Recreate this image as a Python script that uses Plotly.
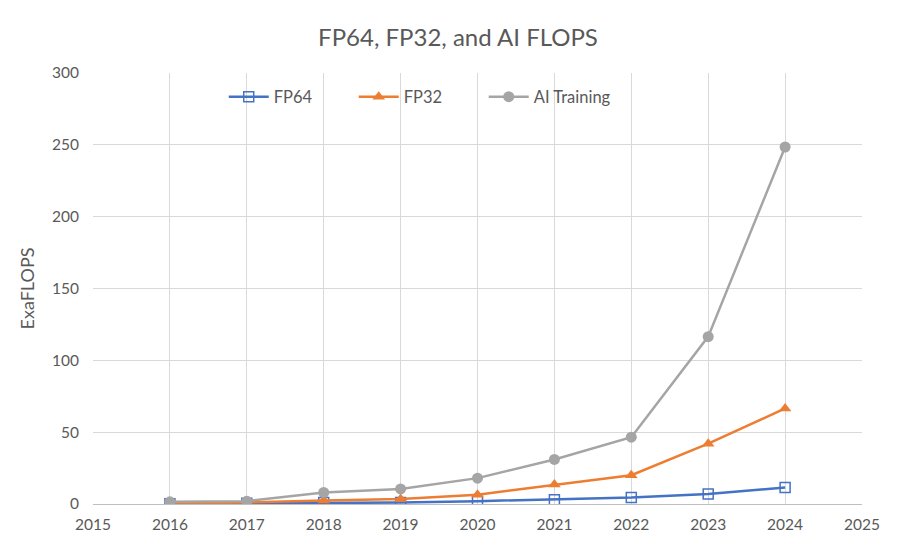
import plotly.graph_objects as go

years = [2016, 2017, 2018, 2019, 2020, 2021, 2022, 2023, 2024]
fp64 = [0.2, 0.5, 1.0, 1.0, 2.0, 3.0, 4.5, 7.0, 11.5]
fp32 = [0.5, 1.0, 2.5, 3.5, 6.5, 13.5, 20.0, 42.0, 66.5]
ai_training = [1.5, 2.0, 8.0, 10.5, 18.0, 31.0, 46.5, 116.5, 248.5]

x_ticks = [2015, 2016, 2017, 2018, 2019, 2020, 2021, 2022, 2023, 2024, 2025]
y_ticks = [0, 50, 100, 150, 200, 250, 300]

FONT = "Lato, Noto Sans, sans-serif"
TXT = "#595959"

fig = go.Figure()
fig.add_trace(go.Scatter(
    x=years, y=fp64, name="FP64", mode="lines+markers",
    line=dict(color="#4472C4", width=2.5),
    marker=dict(symbol="square-open", size=10, color="#4472C4", line=dict(width=1.5)),
))
fig.add_trace(go.Scatter(
    x=years, y=fp32, name="FP32", mode="lines+markers",
    line=dict(color="#ED7D31", width=2.5),
    marker=dict(symbol="triangle-up", size=11, color="#ED7D31"),
))
fig.add_trace(go.Scatter(
    x=years, y=ai_training, name="AI Training", mode="lines+markers",
    line=dict(color="#A5A5A5", width=2.5),
    marker=dict(symbol="circle", size=11, color="#A5A5A5"),
))

fig.update_layout(
    width=900, height=548,
    paper_bgcolor="white", plot_bgcolor="white",
    margin=dict(l=85, r=46, t=65, b=52),
    font=dict(family=FONT, size=15.5, color=TXT),
    title=dict(text="FP64, FP32, and AI FLOPS", x=0.5, xanchor="center",
               y=1 - 30 / 548, yanchor="middle", font=dict(size=24, color=TXT)),
    legend=dict(orientation="h", x=0.17, xanchor="left", y=0.985, yanchor="top",
                bgcolor="rgba(0,0,0,0)", font=dict(size=16.5, color=TXT),
                entrywidth=75, itemwidth=40),
    showlegend=True,
)
fig.update_xaxes(
    range=[2015, 2025], tickmode="array", tickvals=x_ticks,
    ticktext=[str(v) for v in x_ticks],
    showgrid=True, gridcolor="#D9D9D9", gridwidth=1,
    showline=True, linecolor="#BFBFBF", linewidth=1, zeroline=False,
    ticks="", tickfont=dict(size=15.5, color=TXT), ticklabelstandoff=6,
)
fig.update_yaxes(
    range=[0, 300], tickmode="array", tickvals=y_ticks,
    showgrid=True, gridcolor="#D9D9D9", gridwidth=1,
    showline=False, zeroline=False, ticks="",
    title=dict(text="ExaFLOPS", font=dict(size=18, color=TXT), standoff=12),
    tickfont=dict(size=15.5, color=TXT), ticklabelstandoff=13,
)

fig.write_html("out.html")
